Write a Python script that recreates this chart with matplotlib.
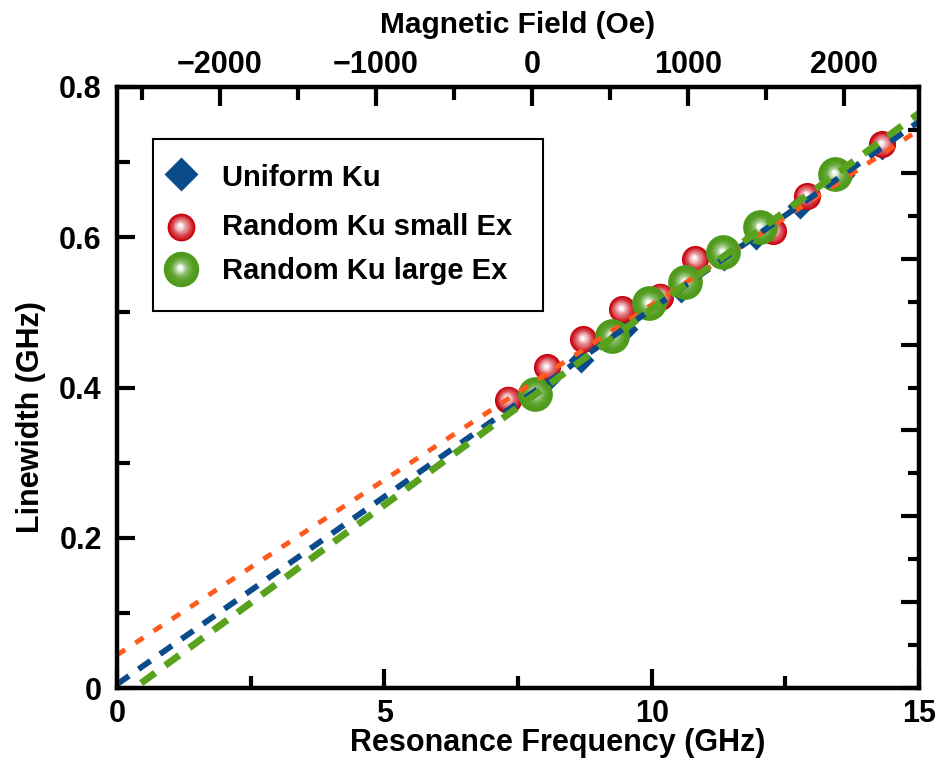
import matplotlib
matplotlib.use("Agg")
import matplotlib.pyplot as plt
import numpy as np
from matplotlib.colors import to_rgb
from matplotlib.patches import Rectangle
from matplotlib.ticker import MultipleLocator
from matplotlib.transforms import offset_copy

plt.rcParams['font.family'] = ['Liberation Sans', 'DejaVu Sans']
plt.rcParams['font.weight'] = 'bold'

# values
uniform_f = [8.05, 8.68, 9.50, 10.55, 11.35, 11.95, 12.78, 13.55, 14.30]
uniform_w = [0.410, 0.436, 0.478, 0.530, 0.572, 0.600, 0.641, 0.683, 0.720]
small_f = [7.31, 8.04, 8.72, 9.44, 10.16, 10.81, 12.27, 12.90, 14.31]
small_w = [0.384, 0.427, 0.464, 0.504, 0.521, 0.571, 0.608, 0.655, 0.724]
large_f = [7.82, 9.26, 9.95, 10.62, 11.33, 12.03, 13.43]
large_w = [0.391, 0.468, 0.512, 0.540, 0.580, 0.613, 0.684]

# fitted lines, end points at 0 and 15 GHz
fit_f = [0, 15]
uniform_fit = [0.005, 0.754]
small_fit = [0.044, 0.743]
large_fit = [-0.017, 0.765]

xticks = [0, 5, 10, 15]
xtick_labels = ["0", "5", "10", "15"]
yticks = [0, 0.2, 0.4, 0.6, 0.8]
ytick_labels = ["0", "0.2", "0.4", "0.6", "0.8"]
field_ticks = [-2000, -1000, 0, 1000, 2000]
field_labels = ["\u22122000", "\u22121000", "0", "1000", "2000"]

legend_labels = ["Uniform Ku", "Random Ku small Ex", "Random Ku large Ex"]

blue = '#0A4B8C'
orange = '#FF5A1C'
green_line = '#58A21E'
green = '#4E9A1B'
red = '#C8000C'

fig = plt.figure(figsize=(9.4, 7.61), dpi=100)
ax = fig.add_axes([0.1245, 0.0959, 0.8532, 0.7898])


def sphere(ax, x, y, base, ms, z, power, trans):
    # shaded ball: stack of shrinking discs going toward white
    base = np.array(to_rgb(base))
    n = 16
    for k in range(n):
        f = k / (n - 1)
        r = 1 - 0.86 * f
        t = f ** power
        c = base + (1 - base) * t * 0.97
        tr = offset_copy(trans, fig=fig, x=-0.6 * f, y=1.2 * f, units='points')
        ax.plot(x, y, 'o', ms=ms * r, color=c, mec='none', ls='none',
                zorder=z, transform=tr)


# markers
ax.plot(uniform_f, uniform_w, 'D', ms=13.7, color=blue, mec='none', ls='none', zorder=3)
sphere(ax, small_f, small_w, red, 19.5, 4, 1.2, ax.transData)
sphere(ax, large_f, large_w, green, 25, 5, 2.6, ax.transData)

# fit lines
ax.plot(fit_f, small_fit, color=orange, lw=3.5, dashes=(2.0, 2.5), zorder=6)
ax.plot(fit_f, uniform_fit, color=blue, lw=4.2, dashes=(2.5, 2.0), zorder=7)
ax.plot(fit_f, large_fit, color=green_line, lw=5.0, dashes=(2.5, 1.8), zorder=8)

ax.set_xlim(0, 15)
ax.set_ylim(0, 0.8)
ax.set_xticks(xticks)
ax.set_xticklabels(xtick_labels)
ax.set_yticks(yticks)
ax.set_yticklabels(ytick_labels)
ax.xaxis.set_minor_locator(MultipleLocator(2.5))
ax.yaxis.set_minor_locator(MultipleLocator(0.1))
ax.tick_params(axis='x', which='major', direction='in', length=14, width=3,
               pad=8, labelsize=22)
ax.tick_params(axis='x', which='minor', direction='in', length=9, width=3)
ax.tick_params(axis='y', which='major', direction='in', length=13, width=3,
               pad=11, labelsize=22)
ax.tick_params(axis='y', which='minor', direction='in', length=9, width=3)

ax.set_xlabel("Resonance Frequency (GHz)", fontsize=22, fontweight='bold')
ax.xaxis.set_label_coords(0.55, -0.066)
ax.set_ylabel("Linewidth (GHz)", fontsize=22, fontweight='bold')
ax.yaxis.set_label_coords(-0.088, 0.45)

# top axis: magnetic field
ax_top = ax.twiny()
ax_top.set_xlim(-2660, 2480)
ax_top.set_xticks(field_ticks)
ax_top.set_xticklabels(field_labels)
ax_top.xaxis.set_minor_locator(MultipleLocator(500))
ax_top.tick_params(axis='x', which='major', direction='in', length=14, width=3,
                   pad=5, labelsize=22)
ax_top.tick_params(axis='x', which='minor', direction='in', length=9, width=3)
ax_top.set_xlabel("Magnetic Field (Oe)", fontsize=21.5, fontweight='bold')
ax_top.xaxis.set_label_coords(0.5, 1.09)

# right axis: ticks only
ax_r = ax.twinx()
ax_r.set_ylim(0, 7)
ax_r.yaxis.set_major_locator(MultipleLocator(1))
ax_r.yaxis.set_minor_locator(MultipleLocator(0.5))
ax_r.tick_params(axis='y', which='major', direction='in', length=13, width=3,
                 labelright=False)
ax_r.tick_params(axis='y', which='minor', direction='in', length=8, width=3)

for a in (ax, ax_top, ax_r):
    for s in a.spines.values():
        s.set_linewidth(3)

# legend box drawn by hand
ax.add_patch(Rectangle((0.045, 0.627), 0.486, 0.286, transform=ax.transAxes,
                       fill=False, ec='black', lw=1.5, zorder=9))
leg_x = 0.0798
leg_y = [0.855, 0.767, 0.697]
text_y = [0.835, 0.753, 0.680]
ax.plot(leg_x, leg_y[0], 'D', ms=17.5, color=blue, mec='none',
        transform=ax.transAxes, zorder=10)
sphere(ax, leg_x, leg_y[1], red, 20, 10, 1.2, ax.transAxes)
sphere(ax, leg_x, leg_y[2], green, 25.5, 10, 2.6, ax.transAxes)
for lab, ty in zip(legend_labels, text_y):
    ax.text(0.131, ty, lab, transform=ax.transAxes, fontsize=21,
            fontweight='bold', va='baseline', ha='left', zorder=10)

fig.savefig("out.png", dpi=100)
